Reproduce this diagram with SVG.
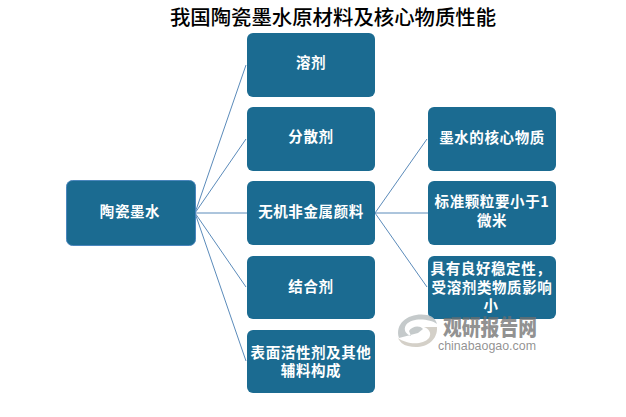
<svg xmlns="http://www.w3.org/2000/svg" width="626" height="417" viewBox="0 0 626 417">
<style>
text{font-family:"Noto Sans CJK SC","Liberation Sans",sans-serif}
.box{fill:#1b6b91}
.root{fill:#1b6b91;stroke:#4a86bd;stroke-width:1}
.t{fill:#fff;font-size:14.500px;font-weight:700;text-anchor:middle;letter-spacing:.6px}
.title{fill:#000;font-size:20.400px;font-weight:500;text-anchor:middle}
.c{fill:none;stroke:#5b8bba;stroke-width:1}
.wm{fill:#6e6e6e;fill-opacity:.75}
</style>
<rect width="626" height="417" fill="#fff"/>
<text class="title" x="333" y="25">我国陶瓷墨水原材料及核心物质性能</text>
<g id="connectors">
<path class="c" d="M195 213L246 65"/>
<path class="c" d="M195 213L246 139"/>
<path class="c" d="M195 213L247 213"/>
<path class="c" d="M195 213L246 287"/>
<path class="c" d="M195 213L246 361"/>
<path class="c" d="M375 213L427 139"/>
<path class="c" d="M375 213L428 213"/>
<path class="c" d="M375 213L427 287"/>
</g>
<g id="n-root"><rect class="root" x="66.500" y="180.500" width="129" height="65" rx="6"/><text class="t" x="130" y="217">陶瓷墨水</text></g>
<g id="n-solvent"><rect class="box" x="247" y="33" width="128" height="64" rx="6"/><text class="t" x="311" y="68">溶剂</text></g>
<g id="n-dispersant"><rect class="box" x="247" y="107" width="128" height="64" rx="6"/><text class="t" x="311" y="142">分散剂</text></g>
<g id="n-pigment"><rect class="box" x="247" y="181" width="128" height="64" rx="6"/><text class="t" x="311" y="217">无机非金属颜料</text></g>
<g id="n-binder"><rect class="box" x="247" y="256" width="128" height="63" rx="6"/><text class="t" x="311" y="292">结合剂</text></g>
<g id="n-surfactant"><rect class="box" x="247" y="330" width="128" height="63" rx="6"/><text class="t" x="311" y="358">表面活性剂及其他<tspan x="311" dy="18">辅料构成</tspan></text></g>
<g id="n-core"><rect class="box" x="428" y="107" width="128" height="64" rx="6"/><text class="t" x="492" y="143">墨水的核心物质</text></g>
<g id="n-size"><rect class="box" x="428" y="181" width="128" height="64" rx="6"/><text class="t" x="492" y="207">标准颗粒要小于1<tspan x="492" dy="19">微米</tspan></text></g>
<g id="n-stable"><rect class="box" x="428" y="256" width="128" height="63" rx="6"/><text class="t" x="491" y="274">具有良好稳定性，<tspan x="492" dy="19">受溶剂类物质影响</tspan><tspan x="491" dy="18">小</tspan></text></g>
<g id="watermark">
<path d="M399 338C394 322 411 312 427 315C433 316 436 320 437 324C430 319 412 317 406 325C403 330 406 334 411 336L409 331C412 326 420 325 423 329L418 333Z" fill="#bfc4c5" fill-opacity=".9"/>
<path d="M437 327C438 342 423 350 408 346C403 345 400 342 398 338C406 344 422 346 429 338C432 333 429 329 424 327Z" fill="#cfcbc2" fill-opacity=".9"/>
<text class="wm" x="443" y="335" font-size="22" font-weight="900" textLength="94" lengthAdjust="spacingAndGlyphs">观研报告网</text>
<text class="wm" x="438" y="350" font-size="13" style="font-family:'Liberation Sans',sans-serif" textLength="98" lengthAdjust="spacingAndGlyphs">chinabaogao.com</text>
</g>
</svg>
